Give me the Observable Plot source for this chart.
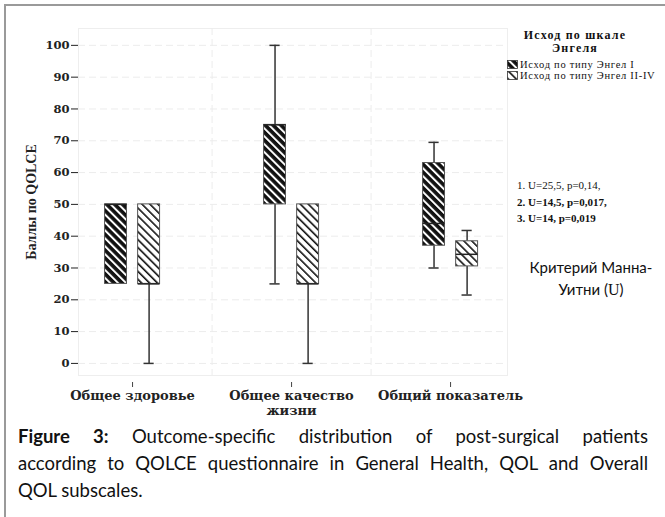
<!DOCTYPE html>
<html>
<head>
<meta charset="utf-8">
<script src="https://cdn.jsdelivr.net/npm/d3@7"></script>
<script src="https://cdn.jsdelivr.net/npm/@observablehq/plot@0.6"></script>
<style>
  html, body { margin: 0; padding: 0; background: #fff; }
  #wrap { position: relative; width: 665px; height: 517px; overflow: hidden; background: #fff; }
  #border { position: absolute; left: 4px; top: 4px; width: 700px; height: 600px; border-left: 2px solid #9a9a9a; border-top: 2px solid #9a9a9a; }
  #chart { position: absolute; left: 0; top: 0; }
  .serif { font-family: "Liberation Serif", "Times New Roman", serif; color: #111; }
  #legend { position: absolute; left: 500px; top: 29px; width: 165px; }
  #legend .title { font-weight: bold; font-size: 12px; letter-spacing: 1.2px; line-height: 13px; text-align: center; width: 150px; }
  #legend .item { font-size: 10.5px; letter-spacing: 0.7px; line-height: 11px; display: flex; align-items: center; margin-left: 7px; white-space: nowrap; }
  #legend .item svg { margin-right: 2px; }
  #stats { position: absolute; left: 517px; top: 177px; font-size: 11px; line-height: 16.5px; }
  #mw { position: absolute; left: 523px; top: 256px; width: 136px; text-align: center; font-family: Lato, "Open Sans", sans-serif; font-size: 15px; line-height: 22px; color: #111; }
  #caption { position: absolute; left: 18px; top: 423px; width: 630px; font-family: Lato, "Open Sans", sans-serif; font-size: 18.5px; line-height: 27px; color: #111; }
  #caption .j { text-align: justify; text-align-last: justify; white-space: nowrap; }
</style>
</head>
<body>
<div id="wrap">
  <div id="border"></div>
  <div id="chart"></div>
  <div id="legend" class="serif"></div>
  <div id="stats" class="serif"></div>
  <div id="mw"></div>
  <div id="caption"></div>
</div>
<script>
// ---- data ----
const categories = ["Общее здоровье", "Общее качество\nжизни", "Общий показатель"];
const groups = ["Исход по типу Энгел I", "Исход по типу Энгел II-IV"];
const legendTitle = ["Исход по шкале", "Энгеля"];
const yLabel = "Баллы по QOLCE";
const yTicks = [0, 10, 20, 30, 40, 50, 60, 70, 80, 90, 100];

// Engel I
const engelI_min = [25, 25, 30];
const engelI_q1 = [25, 50, 37];
const engelI_med = [50, 75, 44];
const engelI_q3 = [50, 75, 63];
const engelI_max = [50, 100, 69.5];
// Engel II-IV
const engelII_min = [0, 0, 21.5];
const engelII_q1 = [25, 25, 30.5];
const engelII_med = [25, 25, 34.3];
const engelII_q3 = [50, 50, 38.4];
const engelII_max = [50, 50, 41.8];

const statLines = ["1. U=25,5, p=0,14,", "2. U=14,5, p=0,017,", "3. U=14, p=0,019"];
const mwLines = ["Критерий Манна-", "Уитни"];
const captionBold = "Figure 3:";
const captionLines = [
  " Outcome-specific distribution of post-surgical patients",
  "according to QOLCE questionnaire in General Health, QOL and Overall",
  "QOL subscales."
];

// ---- table ----
const stats = [
  {min: engelI_min, q1: engelI_q1, med: engelI_med, q3: engelI_q3, max: engelI_max},
  {min: engelII_min, q1: engelII_q1, med: engelII_med, q3: engelII_q3, max: engelII_max}
];
const groupOffset = [-0.104, 0.104];
const halfBox = 0.069;
const halfCap = 0.032;
const rows = [];
categories.forEach((c, i) => {
  groups.forEach((g, j) => {
    const s = stats[j];
    rows.push({
      cat: i, grp: j, xc: i + groupOffset[j],
      min: s.min[i], q1: s.q1[i], med: s.med[i], q3: s.q3[i], max: s.max[i]
    });
  });
});
const fills = ["url(#hatchDark)", "url(#hatchLight)"];
const lowerW = rows.filter(d => d.min < d.q1);
const upperW = rows.filter(d => d.max > d.q3);

const ink = "#333";
const chart = Plot.plot({
  width: 665,
  height: 418,
  marginLeft: 78,
  marginRight: 158,
  marginTop: 28,
  marginBottom: 43,
  style: {fontFamily: "'Liberation Serif', 'Times New Roman', serif", fontSize: "13px", color: "#222", background: "transparent"},
  x: {domain: [-0.34, 2.358]},
  y: {domain: [-3.8, 105.3]},
  marks: [
    Plot.frame({stroke: "#eeeeee"}),
    Plot.gridY(yTicks, {stroke: "#ececec", strokeOpacity: 1, strokeDasharray: "7,4"}),
    Plot.gridX([0.5, 1.5], {stroke: "#ececec", strokeOpacity: 1, strokeDasharray: "7,4"}),
    Plot.axisY(yTicks, {
      tickSize: 7, tickPadding: 2, fontWeight: "bold", fontSize: 11.5,
      label: yLabel, labelAnchor: "center", labelArrow: "none", labelOffset: 52
    }),
    Plot.axisX([0, 1, 2], {
      tickFormat: i => categories[i], tickSize: 5, tickPadding: 3, dy: 7, lineHeight: 1.08,
      fontWeight: "bold", fontSize: 13, label: null, stroke: "#444"
    }),
    Plot.ruleX(lowerW, {x: "xc", y1: "min", y2: "q1", stroke: ink, strokeWidth: 1.5}),
    Plot.ruleX(upperW, {x: "xc", y1: "q3", y2: "max", stroke: ink, strokeWidth: 1.5}),
    Plot.ruleY(lowerW, {x1: d => d.xc - halfCap, x2: d => d.xc + halfCap, y: "min", stroke: ink, strokeWidth: 1.5}),
    Plot.ruleY(upperW, {x1: d => d.xc - halfCap, x2: d => d.xc + halfCap, y: "max", stroke: ink, strokeWidth: 1.5}),
    Plot.rect(rows, {
      x1: d => d.xc - halfBox, x2: d => d.xc + halfBox, y1: "q1", y2: "q3",
      fill: d => fills[d.grp], stroke: "#555", strokeWidth: 1
    }),
    Plot.ruleY(rows, {x1: d => d.xc - halfBox, x2: d => d.xc + halfBox, y: "med", stroke: "#222", strokeWidth: 1.5})
  ]
});
document.getElementById("chart").appendChild(chart);

// axis text fonts: the reference uses a wide, heavy serif for horizontal labels
d3.select(chart).selectAll("[aria-label='x-axis tick label'] text")
  .style("font-family", "'DejaVu Serif', serif").style("font-size", "13px").style("font-weight", "bold");
d3.select(chart).selectAll("[aria-label='y-axis tick label'] text")
  .style("font-family", "'DejaVu Serif', serif").style("font-size", "11.5px").style("font-weight", "bold");
d3.select(chart).selectAll("text").filter(function () { return this.textContent === yLabel; })
  .style("font-family", "'Liberation Serif', serif").style("font-size", "14px").style("font-weight", "bold");

// pattern definitions
const defs = d3.select(chart).insert("defs", ":first-child");
function hatch(id, bg, fg, w) {
  const p = defs.append("pattern").attr("id", id).attr("patternUnits", "userSpaceOnUse")
    .attr("width", 5.6).attr("height", 5.6).attr("patternTransform", "rotate(-45)");
  p.append("rect").attr("width", 5.6).attr("height", 5.6).attr("fill", bg);
  p.append("rect").attr("x", 0).attr("width", w).attr("height", 5.6).attr("fill", fg);
}
hatch("hatchDark", "#111", "#fff", 2.0);
hatch("hatchLight", "#fff", "#111", 1.6);

// legend
const lg = d3.select("#legend");
lg.append("div").attr("class", "title").html(legendTitle.join("<br>"));
lg.append("div").style("height", "4px");
groups.forEach((g, j) => {
  const it = lg.append("div").attr("class", "item");
  const s = it.append("svg").attr("width", 11).attr("height", 9);
  s.append("rect").attr("x", 0.5).attr("y", 0.5).attr("width", 10).attr("height", 8)
    .attr("fill", fills[j]).attr("stroke", "#333").attr("stroke-width", 0.8);
  it.append("span").text(g);
});

// stats
const st = d3.select("#stats");
statLines.forEach((t, i) => st.append("div").style("font-weight", i === 0 ? "normal" : "bold").text(t));

// Mann-Whitney label
const mw = d3.select("#mw");
mw.append("div").text(mwLines[0]);
const l2 = mw.append("div");
l2.append("span").text(mwLines[1] + " (");
l2.append("span").attr("class", "serif").style("font-size", "16px").text("U");
l2.append("span").text(")");

// caption
const cap = d3.select("#caption");
captionLines.forEach((t, i) => {
  const d = cap.append("div").attr("class", i < 2 ? "j" : "");
  if (i === 0) d.append("b").text(captionBold);
  d.append("span").text(t);
});
</script>
</body>
</html>
